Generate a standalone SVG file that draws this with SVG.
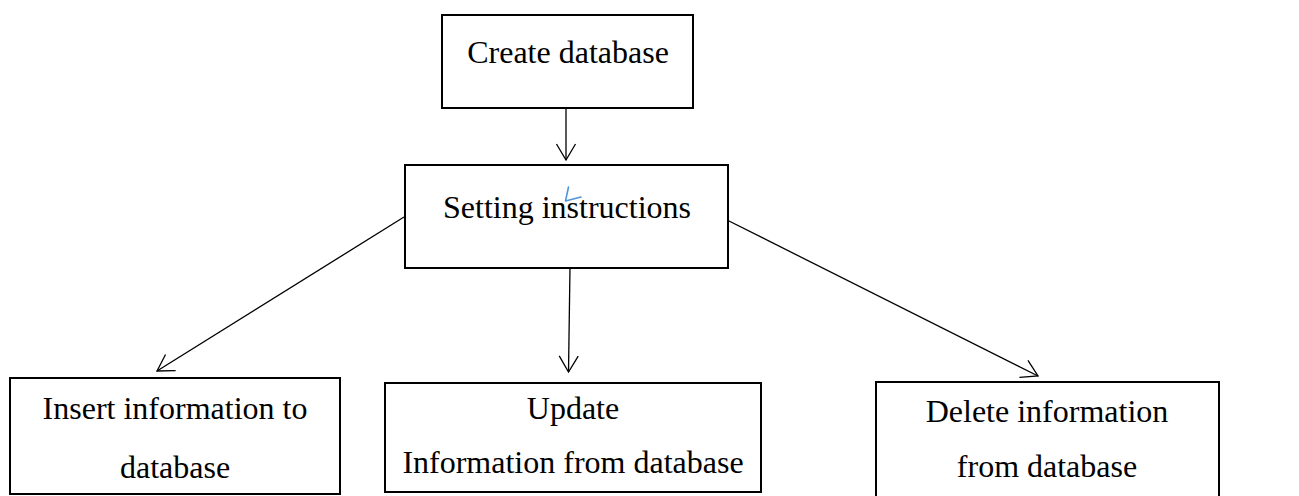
<svg xmlns="http://www.w3.org/2000/svg" width="1299" height="496" viewBox="0 0 1299 496">
  <style>
    .box { fill: #ffffff; stroke: #000000; stroke-width: 2; }
    .label { font-family: "Liberation Serif", "Times New Roman", serif; font-size: 32px; fill: #000000; text-anchor: middle; }
    .link { fill: none; stroke: #000000; stroke-width: 1.3; marker-end: url(#open-arrow); }
  </style>
  <defs>
    <marker id="open-arrow" viewBox="-18 -11 20 22" markerWidth="20" markerHeight="22" markerUnits="userSpaceOnUse" refX="0" refY="0" orient="auto">
      <path d="M-16,-9.5 L0,0 L-16,9.5" fill="none" stroke="#000000" stroke-width="1.3"/>
    </marker>
  </defs>
  <rect width="1299" height="496" fill="#ffffff"/>

  <g id="connectors">
    <line class="link" x1="566" y1="108" x2="566" y2="160"/>
    <line class="link" x1="404" y1="217" x2="157" y2="371"/>
    <line class="link" x1="570" y1="267" x2="568.5" y2="372"/>
    <line class="link" x1="725" y1="219" x2="1038" y2="376"/>
  </g>

  <g id="create-database">
    <rect class="box" x="442" y="15" width="251" height="93"/>
    <text class="label" x="568" y="63">Create database</text>
  </g>

  <g id="setting-instructions">
    <rect class="box" x="405" y="165" width="323" height="103"/>
    <text class="label" x="567" y="218">Setting instructions</text>
    <!-- small blue pen stroke over the label -->
    <polyline points="568.5,187 565.5,201 581,197" fill="none" stroke="#4f95e0" stroke-width="1.6" stroke-linecap="round" stroke-linejoin="round"/>
  </g>

  <g id="insert-information">
    <rect class="box" x="10" y="378" width="330" height="116"/>
    <text class="label" x="175" y="419">Insert information to</text>
    <text class="label" x="175" y="478">database</text>
  </g>

  <g id="update-information">
    <rect class="box" x="385" y="383" width="376" height="109"/>
    <text class="label" x="573" y="419">Update</text>
    <text class="label" x="573" y="473">Information from database</text>
  </g>

  <g id="delete-information">
    <rect class="box" x="876" y="382" width="343" height="120"/>
    <text class="label" x="1047" y="422">Delete information</text>
    <text class="label" x="1047" y="477">from database</text>
  </g>
</svg>
